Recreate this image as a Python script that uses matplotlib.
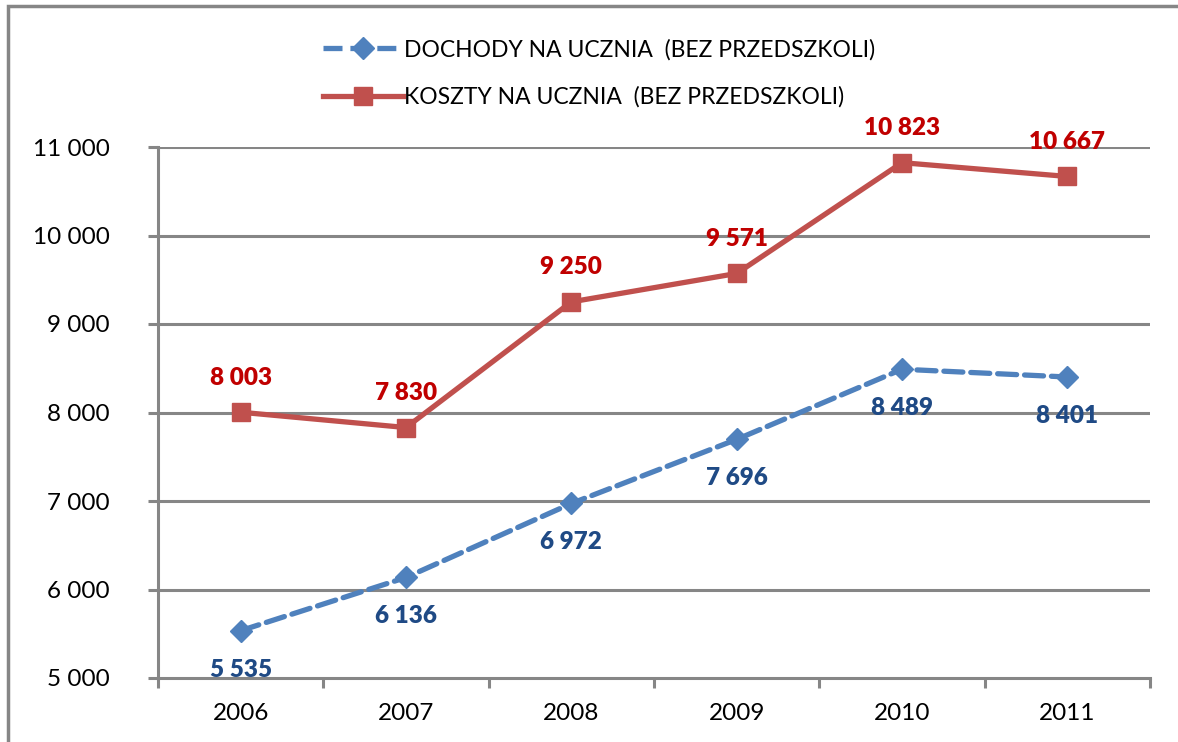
import matplotlib
matplotlib.use("Agg")
import matplotlib.pyplot as plt
from matplotlib.lines import Line2D
from matplotlib.patches import Rectangle

years = ["2006", "2007", "2008", "2009", "2010", "2011"]
dochody = [5535, 6136, 6972, 7696, 8489, 8401]
koszty = [8003, 7830, 9250, 9571, 10823, 10667]
yticks = [5000, 6000, 7000, 8000, 9000, 10000, 11000]
ytick_labels = ["5 000", "6 000", "7 000", "8 000", "9 000", "10 000", "11 000"]
label_dochody = "DOCHODY NA UCZNIA  (BEZ PRZEDSZKOLI)"
label_koszty = "KOSZTY NA UCZNIA  (BEZ PRZEDSZKOLI)"

BLUE = "#4f81bd"
RED = "#c0504d"
GRID = "#868686"
DASH = (0, (3.6, 1.5))

plt.rcParams["font.family"] = ["Lato", "DejaVu Sans"]

fig = plt.figure(figsize=(11.78, 7.42), dpi=100)
W, H = 1178, 742
ax = fig.add_axes([158 / W, 1 - 678 / H, (1150 - 158) / W, (678 - 147) / H])

x = list(range(len(years)))
ax.plot(x, dochody, color=BLUE, lw=3.8, ls=DASH, marker="D",
        ms=11, mfc=BLUE, mec=BLUE, zorder=3, dash_capstyle="round")
ax.plot(x, koszty, color=RED, lw=3.8, marker="s", ms=13,
        mfc=RED, mec=RED, zorder=4)

for xi, v in zip(x, dochody):
    ax.annotate(f"{v:,}".replace(",", " "), (xi, v), xytext=(0, -28),
                textcoords="offset points", ha="center", va="center",
                fontsize=17.5, fontweight="heavy", color="#1f4a85")
for xi, v in zip(x, koszty):
    ax.annotate(f"{v:,}".replace(",", " "), (xi, v), xytext=(0, 25),
                textcoords="offset points", ha="center", va="center",
                fontsize=17.5, fontweight="heavy", color="#c00000")

ax.set_xlim(-0.5, len(years) - 0.5)
ax.set_ylim(5000, 11000)
ax.set_yticks(yticks)
ax.set_yticklabels(ytick_labels, fontsize=17.5)
ax.set_xticks(x)
ax.set_xticklabels(years, fontsize=17.5)
ax.set_xticks([i - 0.5 for i in range(len(years) + 1)], minor=True)
ax.tick_params(axis="x", which="major", length=0, pad=18)
ax.tick_params(axis="x", which="minor", length=7, width=2.2, color=GRID)
ax.tick_params(axis="y", length=7, width=2.2, color=GRID, pad=28)

for yv in yticks[1:]:
    ax.axhline(yv, color=GRID, lw=2.2, zorder=1)
for s in ["top", "right"]:
    ax.spines[s].set_visible(False)
for s in ["left", "bottom"]:
    ax.spines[s].set_color(GRID)
    ax.spines[s].set_linewidth(2.2)

handles = [
    Line2D([], [], color=BLUE, lw=3.8, ls=DASH, marker="D", ms=11),
    Line2D([], [], color=RED, lw=3.8, marker="s", ms=13),
]
fig.legend(handles, [label_dochody, label_koszty], loc="upper left",
           bbox_to_anchor=(302 / W, 1 - 18 / H), frameon=False, fontsize=16.5,
           handlelength=3.5, labelspacing=1.15, handletextpad=0.05)

fig.patches.append(Rectangle((8 / W, -0.05), 1.1, 1 - 6 / H + 0.05,
                             transform=fig.transFigure, fill=False,
                             edgecolor=GRID, lw=2.5))

fig.savefig("out.png", dpi=100)
